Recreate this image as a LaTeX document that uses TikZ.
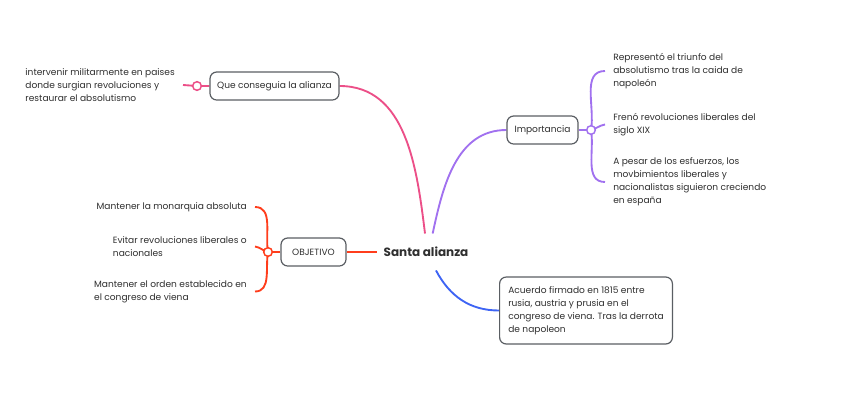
\documentclass[tikz,border=0pt]{standalone}
\usepackage{fontspec}
\setmainfont{Poppins}
\usetikzlibrary{positioning, backgrounds}
\definecolor{inkgray}{HTML}{2F2F2F}
\definecolor{boxgray}{HTML}{5A5E63}
\definecolor{pinkline}{HTML}{EC4F88}
\definecolor{violetline}{HTML}{A171EF}
\definecolor{redline}{HTML}{FF3D1C}
\definecolor{blueline}{HTML}{3E64F4}

\begin{document}
\begin{tikzpicture}[
    x=0.75pt, y=-0.75pt,
    topic/.style={draw=boxgray, line width=0.9pt, rounded corners=5pt, minimum height=21pt, inner xsep=0pt, text=inkgray, font=\fontsize{6.8}{9.75}\selectfont},
    leaf/.style={inner xsep=6pt, inner ysep=0pt, align=left, text=inkgray, font=\fontsize{6.8}{9.75}\selectfont},
    knot/.style={circle, draw, fill=white, line width=1.1pt, inner sep=0pt, minimum size=6.5pt},
    branch/.style={line width=1.4pt}
]
    \useasboundingbox (0,0) rectangle (848,411);

    % Define Nodes
    \node[inner xsep=5pt, inner ysep=10pt, text=inkgray, font=\fontsize{9}{10}\selectfont\bfseries] (santa) at (426,252) {Santa alianza};

    \node[topic, minimum width=96.75pt] (que) at (274.5,86) {Que conseguia la alianza};
    \node[topic, minimum width=53.25pt] (imp) at (542.5,130) {Importancia};
    \node[topic, minimum width=48.75pt] (obj) at (313.5,252) {OBJETIVO};
    \node[topic, minimum width=127.5pt, minimum height=50.25pt, align=left, anchor=west, inner xsep=6.5pt] (acu) at (499,310.5)
        {Acuerdo firmado en 1815 entre\\rusia, austria y prusia en el\\congreso de viena. Tras la derrota\\de napoleon};

    \node[knot, draw=pinkline] (kq) at (197,86) {};
    \node[knot, draw=violetline] (ki) at (591,130) {};
    \node[knot, draw=redline] (ko) at (268,252) {};

    \node[leaf, anchor=east] (interv) at (183,85) {intervenir militarmente en paises\\donde surgian revoluciones y\\restaurar el absolutismo};

    \node[leaf, anchor=west] (repr) at (605,71) {Representó el triunfo del\\absolutismo tras la caida de\\napoleón};
    \node[leaf, anchor=west] (freno) at (605,124.5) {Frenó revoluciones liberales del\\siglo XIX};
    \node[leaf, anchor=west] (pesar) at (605,182) {A pesar de los esfuerzos, los\\movbimientos liberales y\\nacionalistas siguieron creciendo\\en españa};

    \node[leaf, anchor=east] (monar) at (255,207) {Mantener la monarquia absoluta};
    \node[leaf, anchor=east] (evitar) at (255,246.5) {Evitar revoluciones liberales o\\nacionales};
    \node[leaf, anchor=east] (orden) at (255,291.5) {Mantener el orden establecido en\\ el congreso de viena};

    % Draw Edges
    \begin{scope}[on background layer]
        \draw[branch, pinkline] (que.east) to[out=0, in=97] ([xshift=-0.75pt]santa.north);
        \draw[branch, pinkline] (que.west) -- (kq.center) -- (interv.east);

        \draw[branch, violetline] ([xshift=5pt]santa.north) to[out=78, in=180] (imp.west);
        \draw[branch, violetline] (imp.east) -- (ki.center);
        \draw[branch, violetline] (ki.center) to[out=80, in=180] (repr.west);
        \draw[branch, violetline] (ki.center) to[out=15, in=190] (freno.west);
        \draw[branch, violetline] (ki.center) to[out=-80, in=180] (pesar.west);

        \draw[branch, blueline] ([xshift=7.5pt]santa.south) to[out=-62, in=180] (acu.west);

        \draw[branch, redline] (santa.west) -- (obj.east);
        \draw[branch, redline] (obj.west) -- (ko.center);
        \draw[branch, redline] (ko.center) to[out=100, in=0] (monar.east);
        \draw[branch, redline] (ko.center) to[out=165, in=-10] (evitar.east);
        \draw[branch, redline] (ko.center) to[out=-100, in=0] (orden.east);
    \end{scope}
\end{tikzpicture}
\end{document}
